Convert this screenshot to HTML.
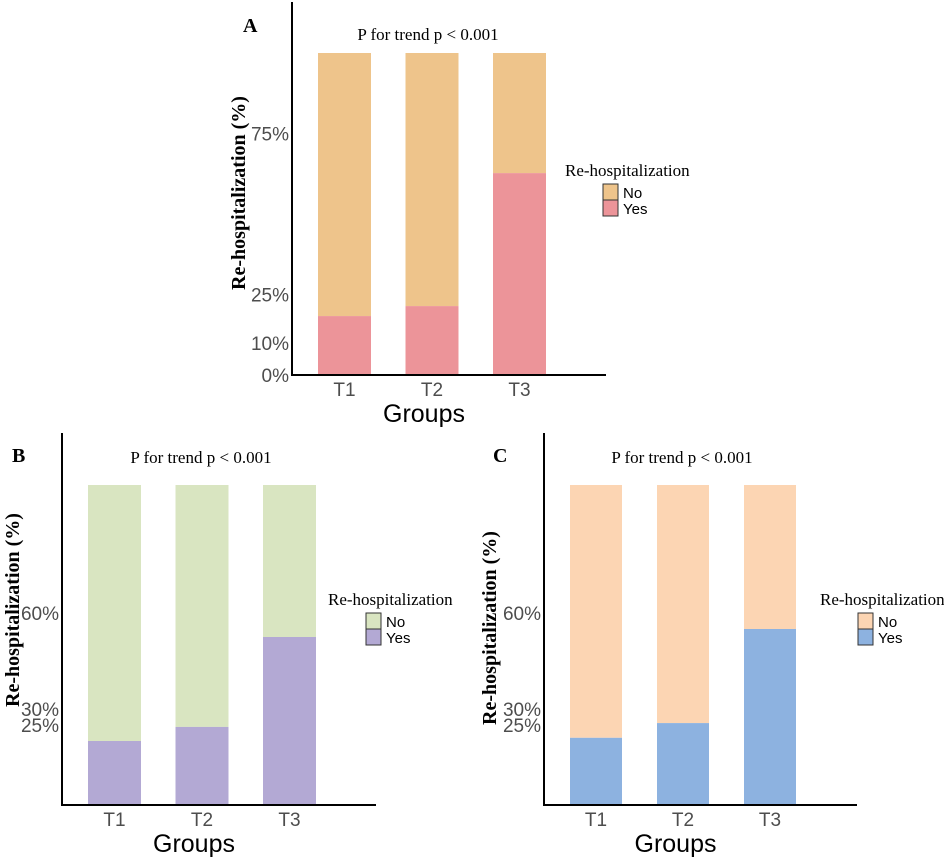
<!DOCTYPE html>
<html><head><meta charset="utf-8"><style>
html,body{margin:0;padding:0;background:#fff;}
svg{display:block;}
.tick{font-family:"Liberation Sans",sans-serif;font-size:19px;fill:#4d4d4d;}
.xl{font-family:"Liberation Sans",sans-serif;font-size:19px;fill:#4d4d4d;}
.xt{font-family:"Liberation Sans",sans-serif;font-size:25px;fill:#000;}
.yt{font-family:"Liberation Serif",serif;font-size:20px;font-weight:bold;fill:#000;}
.ser{font-family:"Liberation Serif",serif;font-size:17px;fill:#000;}
.let{font-family:"Liberation Serif",serif;font-size:20px;font-weight:bold;fill:#000;}
.leg{font-family:"Liberation Sans",sans-serif;font-size:15px;fill:#000;}
</style></head><body>
<svg id="c" width="944" height="858" viewBox="0 0 944 858" xmlns="http://www.w3.org/2000/svg"></svg>
<script>
const categories = ["T1","T2","T3"];
const yesA = [18.3, 21.4, 62.7];
const yesB = [20.0, 24.4, 52.5];
const yesC = [21.0, 25.6, 55.0];
const ticksA = [0, 10, 25, 75];
const ticksB = [25, 30, 60];
const ticksC = [25, 30, 60];
const NS = "http://www.w3.org/2000/svg";
const svg = document.getElementById("c");
function mk(tag, attrs, parent, text){
  const e = document.createElementNS(NS, tag);
  for (const k in attrs) e.setAttribute(k, attrs[k]);
  if (text !== undefined) e.textContent = text;
  (parent || svg).appendChild(e);
  return e;
}
function panel(cfg, yes, ticks){
  const g = mk("g", {});
  
  
  const y = v => cfg.base - v * cfg.ppp;
  const x = i => cfg.x0 + i * cfg.step;
  categories.forEach((c, i) => {
    const yy = yes[i];
    const rn = mk("rect", {x: x(i), y: y(100), width: cfg.bw, height: y(yy) - y(100), fill: cfg.no}, g);
    
    
    const ry = mk("rect", {x: x(i), y: y(yy), width: cfg.bw, height: cfg.base - y(yy), fill: cfg.yes}, g);
    
    
    const t = mk("text", {x: x(i) + cfg.bw / 2, y: cfg.base + 21, "text-anchor": "middle", class: "xl"}, g, c);
    
    
  });
  ticks.forEach(v => {
    const t = mk("text", {x: cfg.ax - 3, y: y(v) + 7, "text-anchor": "end", class: "tick"}, g, v + "%");
    
    
  });
  const la = mk("path", {d: `M${cfg.ax} ${cfg.top} V${cfg.base} H${cfg.xend}`, stroke: "#000", "stroke-width": 2, fill: "none"}, g);
  
  
  const xt = mk("text", {x: (cfg.ax + cfg.xend) / 2 - 25, y: cfg.base + 47, "text-anchor": "middle", class: "xt"}, g, "Groups");
  
  
  const yt = mk("text", {x: 0, y: 0, "text-anchor": "middle", class: "yt", transform: `translate(${cfg.ytx},${cfg.yty}) rotate(-90)`}, g, "Re-hospitalization (%)");
  
  
  const pt = mk("text", {x: cfg.ptx, y: cfg.pty, "text-anchor": "middle", class: "ser"}, g, "P for trend p < 0.001");
  
  
  const lt = mk("text", {x: cfg.lx, y: cfg.ly, class: "let"}, g, cfg.id);
  
  
  const lg = mk("g", {}, g);
  
  
  mk("text", {x: cfg.legx, y: cfg.legy, class: "ser"}, lg, "Re-hospitalization");
  const kx = cfg.legx + 38, ky = cfg.legy + 8;
  const k1 = mk("rect", {x: kx, y: ky, width: 15, height: 16, fill: cfg.no, stroke: "#333", "stroke-width": 1}, lg);
  
  
  const k2 = mk("rect", {x: kx, y: ky + 16, width: 15, height: 16, fill: cfg.yes, stroke: "#333", "stroke-width": 1}, lg);
  
  
  mk("text", {x: kx + 20, y: ky + 14, class: "leg"}, lg, "No");
  mk("text", {x: kx + 20, y: ky + 30, class: "leg"}, lg, "Yes");
}
panel({id:"A", ax:292, top:2, base:375, xend:606, ppp:3.22, x0:318, step:87.5, bw:53,
  no:"#EEC48B", yes:"#EC9499", ytx:245, yty:193, ptx:428, pty:40, lx:243, ly:32, legx:565, legy:176}, yesA, ticksA);
panel({id:"B", ax:62, top:433, base:805, xend:376, ppp:3.2, x0:88, step:87.5, bw:53,
  no:"#D9E5C1", yes:"#B3A9D4", ytx:19, yty:610, ptx:201, pty:463, lx:12, ly:462, legx:328, legy:605}, yesB, ticksB);
panel({id:"C", ax:544, top:433, base:805, xend:857, ppp:3.2, x0:570, step:87, bw:52,
  no:"#FCD5B3", yes:"#8DB2E0", ytx:496, yty:628, ptx:682, pty:463, lx:493, ly:462, legx:820, legy:605}, yesC, ticksC);
</script>
</body></html>
